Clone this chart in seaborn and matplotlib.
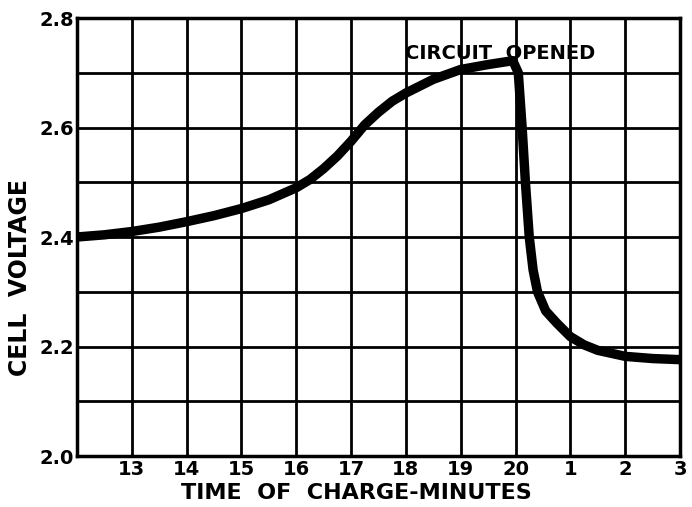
import matplotlib
matplotlib.use("Agg")
import matplotlib.pyplot as plt
import seaborn as sns
import pandas as pd
import numpy as np

# Data
minutes = [12, 12.5, 13, 13.5, 14, 14.5, 15, 15.5, 16, 16.25, 16.5, 16.75, 17, 17.25, 17.5,
           17.75, 18, 18.5, 19, 19.5, 19.95, 20.05, 20.12, 20.18, 20.25, 20.32, 20.4,
           20.55, 20.75, 21.0, 21.25, 21.5, 22.0, 22.5, 23.0]
voltage = [2.400, 2.404, 2.410, 2.418, 2.428, 2.439, 2.452, 2.468, 2.490, 2.505, 2.525,
           2.548, 2.575, 2.605, 2.628, 2.648, 2.663, 2.688, 2.706, 2.715, 2.722, 2.700,
           2.600, 2.500, 2.400, 2.340, 2.300, 2.265, 2.243, 2.218, 2.203, 2.193, 2.182,
           2.178, 2.176]
x_tick_pos = [13, 14, 15, 16, 17, 18, 19, 20, 21, 22, 23]
x_tick_labels = ["13", "14", "15", "16", "17", "18", "19", "20", "1", "2", "3"]
y_tick_pos = [2.0, 2.2, 2.4, 2.6, 2.8]
y_tick_labels = ["2.0", "2.2", "2.4", "2.6", "2.8"]

sns.set_style("white")
plt.rcParams['font.family'] = ['DejaVu Sans']
plt.rcParams['font.weight'] = 'bold'
plt.rcParams['text.color'] = 'black'
plt.rcParams['xtick.color'] = 'black'
plt.rcParams['ytick.color'] = 'black'
plt.rcParams['axes.labelcolor'] = 'black'

fig = plt.figure(figsize=(6.92, 5.07), dpi=100)
ax = fig.add_axes([77/692, 1-456/507, (680-77)/692, (456-18)/507])

df = pd.DataFrame({"t": minutes, "v": voltage})
sns.lineplot(data=df, x="t", y="v", ax=ax, color="black", linewidth=6.8,
             solid_capstyle="butt", solid_joinstyle="round", zorder=5)

ax.set_xlim(12, 23)
ax.set_ylim(2.0, 2.8)

# grid
ax.set_xticks(x_tick_pos)
ax.set_xticklabels(x_tick_labels)
ax.set_yticks(y_tick_pos)
ax.set_yticklabels(y_tick_labels)
ax.set_xticks(np.arange(12, 24, 1), minor=True)
ax.set_yticks(np.arange(2.0, 2.81, 0.1), minor=True)
ax.grid(which="both", color="black", linewidth=2.0)
ax.tick_params(which="both", length=0)
ax.tick_params(axis="x", labelsize=14, pad=3)
ax.tick_params(axis="y", labelsize=14, pad=2)
for lab in ax.get_xticklabels() + ax.get_yticklabels():
    lab.set_fontweight("bold")

for s in ax.spines.values():
    s.set_visible(True)
    s.set_color("black")
    s.set_linewidth(2.5)

ax.set_xlabel("")
ax.set_ylabel("")
fig.text(356/692, 1-493/507, "TIME  OF  CHARGE-MINUTES", ha="center", va="center",
         fontsize=16, fontweight="bold")
fig.text(20/692, 1-277/507, "CELL  VOLTAGE", ha="center", va="center",
         rotation=90, fontsize=17, fontweight="bold")
ax.text(17.98, 2.735, "CIRCUIT  OPENED", ha="left", va="center", fontsize=14,
        fontweight="bold", zorder=6)

fig.savefig("out.png", dpi=100)
